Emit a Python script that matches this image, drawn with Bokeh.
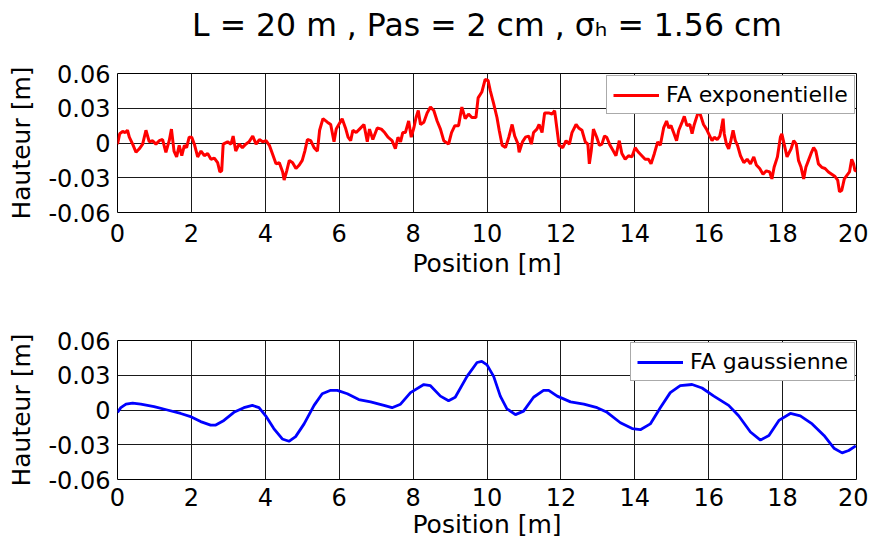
from bokeh.plotting import figure
from bokeh.layouts import column
from bokeh.models import Range1d, FixedTicker
from bokeh.embed import file_html
from bokeh.resources import INLINE

# ---------------- data ----------------
x_exp = [0.00, 0.06, 0.14, 0.21, 0.27, 0.32, 0.41, 0.50, 0.59, 0.68, 0.77, 0.86, 0.95, 1.04, 1.13,
         1.22, 1.31, 1.40, 1.46, 1.53, 1.60, 1.67, 1.74, 1.81, 1.87, 1.94, 2.01, 2.08, 2.17, 2.26,
         2.35, 2.44, 2.53, 2.62, 2.71, 2.77, 2.82, 2.86, 2.98, 3.07, 3.13, 3.20, 3.29, 3.38, 3.47,
         3.56, 3.66, 3.75, 3.84, 3.93, 4.02, 4.11, 4.20, 4.29, 4.38, 4.47, 4.51, 4.58, 4.65, 4.74,
         4.83, 4.92, 5.00, 5.07, 5.14, 5.23, 5.32, 5.41, 5.47, 5.56, 5.68, 5.77, 5.86, 5.92, 5.99,
         6.08, 6.17, 6.24, 6.31, 6.37, 6.46, 6.55, 6.67, 6.76, 6.82, 6.91, 7.03, 7.14, 7.23, 7.32,
         7.43, 7.52, 7.59, 7.66, 7.72, 7.79, 7.88, 7.95, 8.02, 8.08, 8.14, 8.20, 8.29, 8.38, 8.47,
         8.56, 8.65, 8.74, 8.83, 8.96, 9.04, 9.13, 9.23, 9.32, 9.41, 9.50, 9.59, 9.70, 9.76, 9.86,
         9.95, 10.03, 10.09, 10.18, 10.27, 10.33, 10.41, 10.50, 10.59, 10.68, 10.75, 10.84, 10.87,
         10.96, 11.04, 11.13, 11.20, 11.26, 11.35, 11.41, 11.49, 11.56, 11.67, 11.76, 11.83, 11.89,
         11.95, 12.05, 12.14, 12.23, 12.30, 12.41, 12.48, 12.57, 12.66, 12.73, 12.77, 12.82, 12.88,
         12.97, 13.04, 13.11, 13.18, 13.24, 13.33, 13.42, 13.49, 13.58, 13.65, 13.74, 13.83, 13.92,
         14.01, 14.10, 14.19, 14.28, 14.37, 14.44, 14.53, 14.62, 14.69, 14.78, 14.86, 14.92, 14.98,
         15.05, 15.13, 15.19, 15.28, 15.34, 15.41, 15.49, 15.55, 15.61, 15.68, 15.73, 15.79, 15.86,
         15.94, 16.03, 16.09, 16.15, 16.23, 16.30, 16.34, 16.39, 16.42, 16.48, 16.54, 16.60, 16.66,
         16.72, 16.78, 16.86, 16.95, 17.04, 17.13, 17.22, 17.29, 17.38, 17.47, 17.56, 17.65, 17.71,
         17.77, 17.86, 17.94, 17.98, 18.05, 18.12, 18.23, 18.30, 18.37, 18.43, 18.50, 18.57, 18.63,
         18.70, 18.77, 18.84, 18.90, 18.97, 19.06, 19.15, 19.24, 19.33, 19.42, 19.49, 19.54, 19.60,
         19.67, 19.74, 19.81, 19.87, 19.92, 19.96, 20.00]
y_exp = [-0.001, 0.008, 0.010, 0.009, 0.011, 0.005, -0.001, -0.008, -0.005, -0.001, 0.011, 0.001, 0.002,
         -0.001, 0.002, 0.003, -0.008, 0.002, 0.012, -0.007, -0.012, -0.002, -0.011, -0.002, -0.004,
         0.005, 0.005, -0.001, -0.012, -0.007, -0.011, -0.009, -0.014, -0.013, -0.017, -0.025, -0.024,
         -0.001, 0.001, -0.001, 0.006, -0.007, -0.001, -0.004, -0.001, 0.001, 0.006, -0.001, 0.003,
         0.001, 0.002, -0.002, -0.010, -0.018, -0.017, -0.025, -0.032, -0.024, -0.015, -0.017, -0.022,
         -0.019, -0.015, -0.007, 0.003, 0.002, -0.004, -0.007, 0.011, 0.021, 0.018, 0.016, 0.001,
         0.012, 0.016, 0.021, 0.013, 0.005, 0.002, 0.011, 0.009, 0.012, 0.016, 0.001, 0.012, 0.003,
         0.013, 0.012, 0.009, 0.005, 0.002, -0.005, 0.005, 0.001, 0.009, 0.009, 0.019, 0.005, 0.013,
         0.022, 0.028, 0.016, 0.018, 0.026, 0.031, 0.028, 0.019, 0.012, 0.002, -0.001, 0.009, 0.015,
         0.015, 0.031, 0.021, 0.025, 0.022, 0.022, 0.039, 0.044, 0.055, 0.054, 0.045, 0.034, 0.022,
         0.011, -0.002, -0.004, 0.005, 0.016, 0.006, -0.001, -0.008, 0.001, 0.005, 0.006, -0.001,
         0.009, 0.012, 0.016, 0.009, 0.026, 0.026, 0.025, 0.028, 0.013, -0.002, -0.004, 0.002, -0.001,
         0.009, 0.016, 0.013, 0.011, 0.001, -0.001, -0.018, -0.007, 0.012, 0.005, -0.002, -0.001,
         0.006, 0.005, -0.002, -0.007, -0.011, 0.002, -0.009, -0.014, -0.011, -0.012, -0.004, -0.008,
         -0.011, -0.014, -0.014, -0.018, -0.009, 0.001, -0.002, 0.013, 0.019, 0.013, 0.015, 0.009,
         0.002, 0.011, 0.018, 0.023, 0.015, 0.016, 0.008, 0.016, 0.023, 0.028, 0.023, 0.016, 0.012,
         0.006, 0.002, 0.005, 0.003, 0.006, 0.012, 0.021, 0.008, -0.001, -0.005, 0.002, 0.011, 0.002,
         -0.002, -0.011, -0.017, -0.014, -0.018, -0.012, -0.019, -0.022, -0.027, -0.024, -0.025,
         -0.031, -0.021, -0.012, 0.005, 0.008, -0.002, -0.012, -0.005, 0.002, -0.001, -0.015, -0.021,
         -0.031, -0.021, -0.015, -0.009, -0.004, -0.007, -0.018, -0.021, -0.022, -0.025, -0.027,
         -0.029, -0.032, -0.042, -0.041, -0.031, -0.028, -0.025, -0.014, -0.018, -0.024, -0.024]

x_gau = [0.00, 0.09, 0.23, 0.41, 0.63, 0.99, 1.35, 1.71, 2.00, 2.25, 2.52, 2.66, 2.88, 3.15, 3.42, 3.65,
         3.83, 4.01, 4.23, 4.46, 4.64, 4.82, 5.05, 5.32, 5.54, 5.77, 5.95, 6.22, 6.53, 6.85, 7.21, 7.43,
         7.66, 7.93, 8.29, 8.47, 8.74, 8.96, 9.14, 9.46, 9.73, 9.86, 10.00, 10.18, 10.36, 10.54, 10.77,
         10.99, 11.26, 11.53, 11.67, 11.90, 12.26, 12.62, 12.98, 13.25, 13.61, 13.93, 14.15, 14.42,
         14.69, 14.96, 15.23, 15.55, 15.82, 16.14, 16.54, 16.81, 17.13, 17.40, 17.63, 17.90, 18.21,
         18.48, 18.80, 19.12, 19.39, 19.61, 19.79, 19.98]
y_gau = [-0.002, 0.002, 0.005, 0.006, 0.005, 0.003, 0.000, -0.003, -0.006, -0.010, -0.013, -0.013,
         -0.009, -0.002, 0.002, 0.004, 0.002, -0.005, -0.016, -0.025, -0.027, -0.023, -0.012, 0.004,
         0.014, 0.017, 0.017, 0.014, 0.009, 0.007, 0.004, 0.002, 0.005, 0.015, 0.022, 0.021, 0.012,
         0.008, 0.011, 0.029, 0.041, 0.042, 0.039, 0.029, 0.012, 0.001, -0.004, -0.001, 0.011, 0.017,
         0.017, 0.012, 0.007, 0.005, 0.002, -0.002, -0.011, -0.016, -0.017, -0.012, 0.002, 0.015,
         0.021, 0.022, 0.019, 0.012, 0.004, -0.005, -0.019, -0.026, -0.022, -0.009, -0.003, -0.005,
         -0.012, -0.022, -0.033, -0.037, -0.035, -0.031]

x_ticks = [0, 2, 4, 6, 8, 10, 12, 14, 16, 18, 20]
y_ticks = [-0.06, -0.03, 0.0, 0.03, 0.06]
y_tick_labels = ["-0.06", "-0.03", "0", "0.03", "0.06"]
title_text = "L = 20 m , Pas = 2 cm , σₕ = 1.56 cm"
x_label = "Position [m]"
y_label = "Hauteur [m]"

FONT = "DejaVu Sans"
W = 868

# ---------------- title strip (a figure whose only visible part is its title) ----------------
TH = 47
p0 = figure(width=W, height=TH, output_backend="svg", toolbar_location=None,
            x_axis_type=None, y_axis_type=None,
            x_range=Range1d(0, 1), y_range=Range1d(0, 1),
            min_border_left=117, min_border_right=12, min_border_top=45, min_border_bottom=0)
p0.outline_line_color = None
p0.title.text = title_text
p0.title.align = "center"
p0.title.vertical_align = "bottom"
p0.title.text_font = FONT
p0.title.text_font_size = "31.5px"
p0.title.text_font_style = "normal"
p0.title.text_color = "black"
p0.title.standoff = 6
p0.title.offset = -2


def make_fig(height, top, bottom, lab_standoff, axlab_standoff):
    p = figure(width=W, height=height, output_backend="svg", toolbar_location=None,
               x_range=Range1d(0, 20), y_range=Range1d(-0.06, 0.06),
               min_border_left=117, min_border_right=12, min_border_top=top,
               min_border_bottom=bottom)
    p.outline_line_color = "black"
    p.outline_line_width = 1
    for ax in (p.xaxis[0], p.yaxis[0]):
        ax.axis_line_color = None
        ax.major_tick_in = 0
        ax.major_tick_out = 0
        ax.minor_tick_line_color = None
        ax.major_label_text_font = FONT
        ax.major_label_text_font_size = "24px"
        ax.major_label_text_color = "black"
        ax.axis_label_text_font = FONT
        ax.axis_label_text_font_size = "25px"
        ax.axis_label_text_font_style = "normal"
        ax.axis_label_text_color = "black"
    p.xaxis.ticker = FixedTicker(ticks=x_ticks)
    p.yaxis.ticker = FixedTicker(ticks=y_ticks)
    p.yaxis.major_label_overrides = {v: s for v, s in zip(y_ticks, y_tick_labels)}
    p.xaxis.axis_label = x_label
    p.yaxis.axis_label = y_label
    p.xaxis.major_label_standoff = lab_standoff
    p.xaxis.axis_label_standoff = axlab_standoff
    p.yaxis.major_label_standoff = 7
    p.yaxis.axis_label_standoff = 9
    p.xgrid.ticker = FixedTicker(ticks=x_ticks)
    p.ygrid.ticker = FixedTicker(ticks=y_ticks)
    for g in (p.xgrid[0], p.ygrid[0]):
        g.grid_line_color = "#1a1a1a"
        g.grid_line_alpha = 1.0
        g.grid_line_width = 1
    return p


def style_legend(p, loc):
    lg = p.legend[0]
    lg.location = loc
    lg.label_text_font = FONT
    lg.label_text_font_size = "22px"
    lg.label_text_color = "black"
    lg.glyph_width = 46
    lg.glyph_height = 22
    lg.label_height = 22
    lg.label_standoff = 7
    lg.padding = 6
    lg.margin = 0
    lg.spacing = 0
    lg.border_line_color = "#555555"
    lg.border_line_width = 1
    lg.background_fill_color = "white"
    lg.background_fill_alpha = 1.0


p1 = make_fig(295 - TH, 73 - TH, 83, 11, 4)
p1.line(x_exp, y_exp, line_color="#ff0000", line_width=3, legend_label="FA exponentielle")
style_legend(p1, (489, 98))

p2 = make_fig(250, 45, 66, 8, 1)
p2.line(x_gau, y_gau, line_color="#0000ff", line_width=2.8, legend_label="FA gaussienne")
style_legend(p2, (513, 98))

layout = column(p0, p1, p2)
open("out.html", "w").write(file_html(layout, INLINE))
